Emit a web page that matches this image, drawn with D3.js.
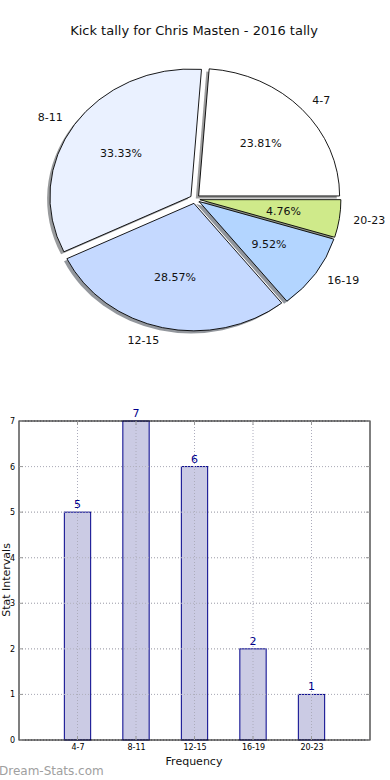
<!DOCTYPE html>
<html>
<head>
<meta charset="utf-8">
<script src="https://cdn.jsdelivr.net/npm/d3@7"></script>
<style>
body{margin:0;background:#fff;}
text{font-family:"DejaVu Sans",sans-serif;}
</style>
</head>
<body>
<div class="chart"></div>
<script>
const categories=["4-7","8-11","12-15","16-19","20-23"]
const counts=[5,7,6,2,1]
const sliceColors=["#ffffff","#eaf1ff","#c5d9ff","#b3d5ff","#cfea8a"]
const yTicks=[0,1,2,3,4,5,6,7]

const width=390,height=780

const svg=d3.select('.chart').append('svg')
		.attr('width',width)
		.attr('height',height)

svg.append('text')
		.attr('x',194)
		.attr('y',35)
		.attr('text-anchor','middle')
		.attr('font-size',13)
		.attr('fill','#111')
		.text('Kick tally for Chris Masten - 2016 tally')

// pie (matplotlib style: counterclockwise from 3 o'clock, ellipse, exploded, shadow)
const cx=195,cy=199,rx=141,ry=127.5
const explode=0.035

const pie=d3.pie().sort(null)
		.startAngle(Math.PI/2)
		.endAngle(Math.PI/2-2*Math.PI)

const arcs=pie(counts)
const total=d3.sum(counts)

const arc=d3.arc().innerRadius(0).outerRadius(1)

arcs.forEach(d=>{
	const mid=(d.startAngle+d.endAngle)/2
	d.ux=Math.sin(mid)
	d.uy=-Math.cos(mid)
	d.ox=cx+explode*rx*d.ux
	d.oy=cy+explode*ry*d.uy
})

const pieG=svg.append('g')

pieG.selectAll('.shadow')
		.data(arcs)
		.enter()
		.append('path')
		.attr('class','shadow')
		.attr('d',arc)
		.attr('transform',d=>`translate(${d.ox-0.02*rx},${d.oy+0.02*ry}) scale(${rx},${ry})`)
		.attr('fill',(d,i)=>{
			const c=d3.rgb(sliceColors[i])
			return d3.rgb(c.r*0.3,c.g*0.3,c.b*0.3)
		})
		.attr('fill-opacity',0.55)
		.attr('stroke','none')

pieG.selectAll('.slice')
		.data(arcs)
		.enter()
		.append('path')
		.attr('class','slice')
		.attr('d',arc)
		.attr('transform',d=>`translate(${d.ox},${d.oy}) scale(${rx},${ry})`)
		.attr('fill',(d,i)=>sliceColors[i])
		.attr('stroke','#000')
		.attr('stroke-width',0.9)
		.attr('vector-effect','non-scaling-stroke')

pieG.selectAll('.slabel')
		.data(arcs)
		.enter()
		.append('text')
		.attr('x',d=>d.ox+1.1*rx*d.ux)
		.attr('y',d=>d.oy+1.1*ry*d.uy)
		.attr('text-anchor',d=>d.ux>0?'start':'end')
		.attr('dominant-baseline','central')
		.attr('font-size',11)
		.attr('fill','#111')
		.text((d,i)=>categories[i])

pieG.selectAll('.pct')
		.data(arcs)
		.enter()
		.append('text')
		.attr('x',d=>d.ox+0.6*rx*d.ux)
		.attr('y',d=>d.oy+0.6*ry*d.uy)
		.attr('text-anchor','middle')
		.attr('dominant-baseline','central')
		.attr('font-size',11)
		.attr('fill','#111')
		.text(d=>(d.value/total*100).toFixed(2)+'%')

// bar chart
const bx0=19,bx1=370,by0=421,by1=740

const xScale=d3.scaleLinear()
		.domain([0,6])
		.range([bx0,bx1])

const yScale=d3.scaleLinear()
		.domain([0,7])
		.range([by1,by0])

const barW=(xScale(1)-xScale(0))*0.45

const g=svg.append('g')

// grid
g.selectAll('.hgrid')
		.data(yTicks)
		.enter()
		.append('line')
		.attr('x1',bx0).attr('x2',bx1)
		.attr('y1',d=>yScale(d)).attr('y2',d=>yScale(d))
		.attr('stroke','#b8b8b8')
		.attr('stroke-dasharray','1,2')

// bars
g.selectAll('.bar')
		.data(counts)
		.enter()
		.append('rect')
		.attr('class','bar')
		.attr('x',(d,i)=>xScale(i+1)-barW/2)
		.attr('y',d=>yScale(d))
		.attr('width',barW)
		.attr('height',d=>by1-yScale(d))
		.attr('fill','#cbcbe4')
		.attr('stroke','#00008b')
		.attr('stroke-width',1)

// grid over bars
g.selectAll('.hgrid2')
		.data(yTicks)
		.enter()
		.append('line')
		.attr('x1',bx0).attr('x2',bx1)
		.attr('y1',d=>yScale(d)).attr('y2',d=>yScale(d))
		.attr('stroke','#b0b0bc')
		.attr('stroke-dasharray','1,2')

g.selectAll('.vgrid')
		.data(categories)
		.enter()
		.append('line')
		.attr('x1',(d,i)=>xScale(i+1)).attr('x2',(d,i)=>xScale(i+1))
		.attr('y1',by0).attr('y2',by1)
		.attr('stroke','#acacbc')
		.attr('stroke-dasharray','1,2')

g.selectAll('.barlabel')
		.data(counts)
		.enter()
		.append('text')
		.attr('x',(d,i)=>xScale(i+1))
		.attr('y',d=>yScale(d)-4)
		.attr('text-anchor','middle')
		.attr('font-size',11)
		.attr('fill','#00008b')
		.text(d=>d)

// axes frame
g.append('rect')
		.attr('x',bx0).attr('y',by0)
		.attr('width',bx1-bx0).attr('height',by1-by0)
		.attr('fill','none')
		.attr('stroke','#000')
		.attr('stroke-width',1)

const yAxis=d3.axisLeft(yScale)
		.tickValues(yTicks)
		.tickFormat(d3.format('d'))
		.tickSize(0)
		.tickPadding(4)

const yAxisG=g.append('g')
		.attr('transform',`translate(${bx0},0)`)
		.call(yAxis)
yAxisG.select('.domain').remove()
yAxisG.selectAll('text').attr('font-size',8).attr('fill','#000').attr('font-family','DejaVu Sans')

const xAxis=d3.axisBottom(xScale)
		.tickValues([1,2,3,4,5])
		.tickFormat((d)=>categories[d-1])
		.tickSize(0)
		.tickPadding(4)

const xAxisG=g.append('g')
		.attr('transform',`translate(0,${by1})`)
		.call(xAxis)
xAxisG.select('.domain').remove()
xAxisG.selectAll('text').attr('font-size',8).attr('fill','#000').attr('font-family','DejaVu Sans')

// inner tick marks
yTicks.forEach(t=>{
	g.append('line').attr('x1',bx0).attr('x2',bx0+4).attr('y1',yScale(t)).attr('y2',yScale(t)).attr('stroke','#999')
	g.append('line').attr('x1',bx1-4).attr('x2',bx1).attr('y1',yScale(t)).attr('y2',yScale(t)).attr('stroke','#999')
})
categories.forEach((c,i)=>{
	g.append('line').attr('x1',xScale(i+1)).attr('x2',xScale(i+1)).attr('y1',by1-4).attr('y2',by1).attr('stroke','#999')
	g.append('line').attr('x1',xScale(i+1)).attr('x2',xScale(i+1)).attr('y1',by0).attr('y2',by0+4).attr('stroke','#999')
})

g.append('text')
		.attr('x',194)
		.attr('y',765)
		.attr('text-anchor','middle')
		.attr('font-size',11)
		.attr('fill','#111')
		.text('Frequency')

g.append('text')
		.attr('transform','translate(10,580) rotate(-90)')
		.attr('text-anchor','middle')
		.attr('font-size',11)
		.attr('fill','#111')
		.text('Stat Intervals')

svg.append('text')
		.attr('x',-1)
		.attr('y',775)
		.attr('font-size',12)
		.attr('fill','#a0a0a0')
		.text('Dream-Stats.com')
</script>
</body>
</html>
